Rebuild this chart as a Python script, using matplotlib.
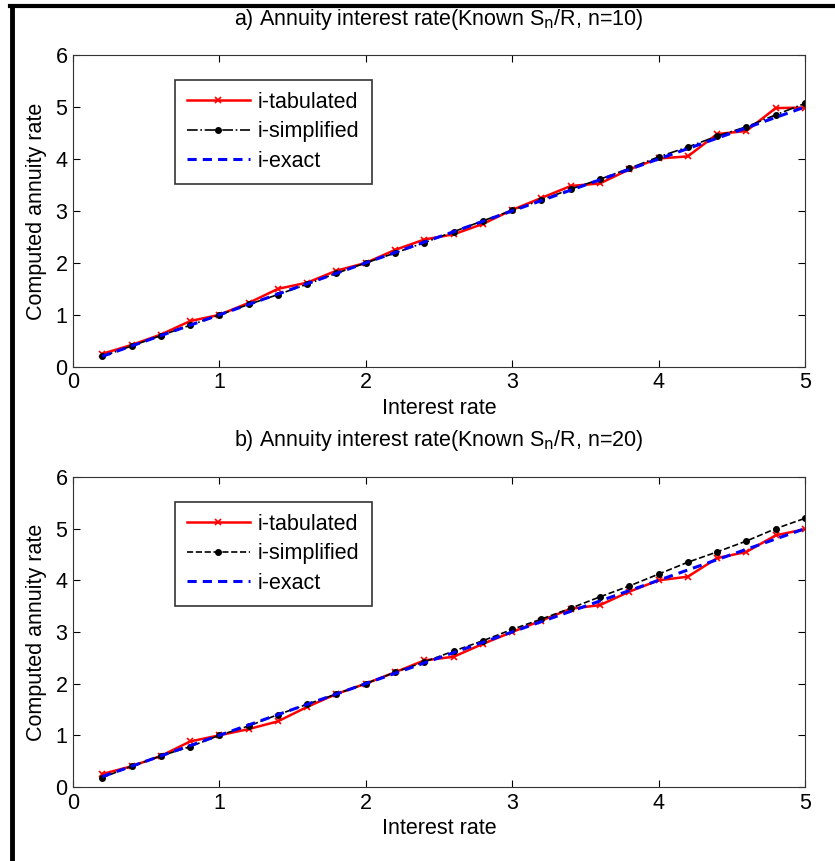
import numpy as np
import matplotlib
matplotlib.use('Agg')
import matplotlib.pyplot as plt
from matplotlib.lines import Line2D

plt.rcParams['font.family'] = ['Liberation Sans', 'DejaVu Sans']

# interest rate grid
rate = [0.2, 0.4, 0.6, 0.8, 1.0, 1.2, 1.4, 1.6, 1.8, 2.0, 2.2, 2.4, 2.6,
        2.8, 3.0, 3.2, 3.4, 3.6, 3.8, 4.0, 4.2, 4.4, 4.6, 4.8, 5.0]

# a) n = 10
tab_10 = [0.25, 0.42, 0.62, 0.88, 1.0, 1.23, 1.5, 1.62, 1.85, 2.0, 2.25, 2.45, 2.55,
          2.75, 3.02, 3.25, 3.48, 3.53, 3.8, 4.01, 4.05, 4.48, 4.54, 4.98, 4.99]
simp_10 = [0.2, 0.4, 0.6, 0.8, 1.0, 1.2, 1.39, 1.59, 1.8, 2.0, 2.19, 2.39, 2.6,
           2.81, 3.01, 3.21, 3.42, 3.61, 3.82, 4.04, 4.23, 4.44, 4.62, 4.85, 5.07]
exact_10 = rate

# b) n = 20
tab_20 = [0.25, 0.4, 0.6, 0.88, 1.0, 1.12, 1.27, 1.55, 1.8, 2.0, 2.22, 2.45, 2.52,
          2.77, 3.0, 3.22, 3.45, 3.52, 3.78, 4.0, 4.07, 4.43, 4.55, 4.87, 4.99]
simp_20 = [0.18, 0.4, 0.6, 0.78, 1.0, 1.18, 1.4, 1.6, 1.8, 2.0, 2.22, 2.42, 2.63,
           2.83, 3.05, 3.25, 3.46, 3.68, 3.89, 4.12, 4.35, 4.55, 4.76, 5.0, 5.2]
exact_20 = rate

fig = plt.figure(figsize=(8.35, 8.61), dpi=100)
fs = 15.5

def panel(rect, title, tab, simp, exact, simp_ls):
    ax = fig.add_axes(rect)
    ax.plot(rate, tab, color='red', lw=1.8, marker='x', ms=5, mew=1.2, label='i-tabulated')
    ax.plot(rate, simp, color='black', lw=1.2, ls=simp_ls, marker='o', ms=4, label='i-simplified')
    ax.plot(rate, exact, color='blue', lw=2.2, ls='--', dashes=(3, 2), label='i-exact')
    ax.set_xlim(0, 5)
    ax.set_ylim(0, 6)
    ax.set_xticks([0, 1, 2, 3, 4, 5])
    ax.set_yticks([0, 1, 2, 3, 4, 5, 6])
    ax.tick_params(labelsize=fs, direction='in', length=5, top=True, right=True, pad=4)
    ax.set_xlabel('Interest rate', fontsize=fs, labelpad=3)
    ax.set_ylabel('Computed annuity rate', fontsize=fs, labelpad=6)
    ax.set_title(title, fontsize=fs, pad=22)
    for s in ax.spines.values():
        s.set_color('#333333')
    leg = ax.legend(loc='upper left', bbox_to_anchor=(0.125, 0.955), fontsize=fs,
                    handlelength=2.9, fancybox=False, framealpha=1,
                    borderpad=0.55, labelspacing=0.4, handletextpad=0.4)
    leg.get_frame().set_edgecolor('#333333')
    leg.get_frame().set_linewidth(1.2)
    return ax

panel([0.0874, 0.574, 0.8766, 0.362], r'a) Annuity interest rate(Known S$_\mathrm{n}$/R, n=10)',
      tab_10, simp_10, exact_10, '-.')
panel([0.0874, 0.086, 0.8766, 0.360], r'b) Annuity interest rate(Known S$_\mathrm{n}$/R, n=20)',
      tab_20, simp_20, exact_20, '--')

# thick frame on the left and top
fig.add_artist(Line2D([0.0144, 0.0144], [0, 0.9935], transform=fig.transFigure, color='black', lw=3.5))
fig.add_artist(Line2D([0.0125, 1.0], [0.9935, 0.9935], transform=fig.transFigure, color='black', lw=3.0))

fig.savefig('out.png', dpi=100)
